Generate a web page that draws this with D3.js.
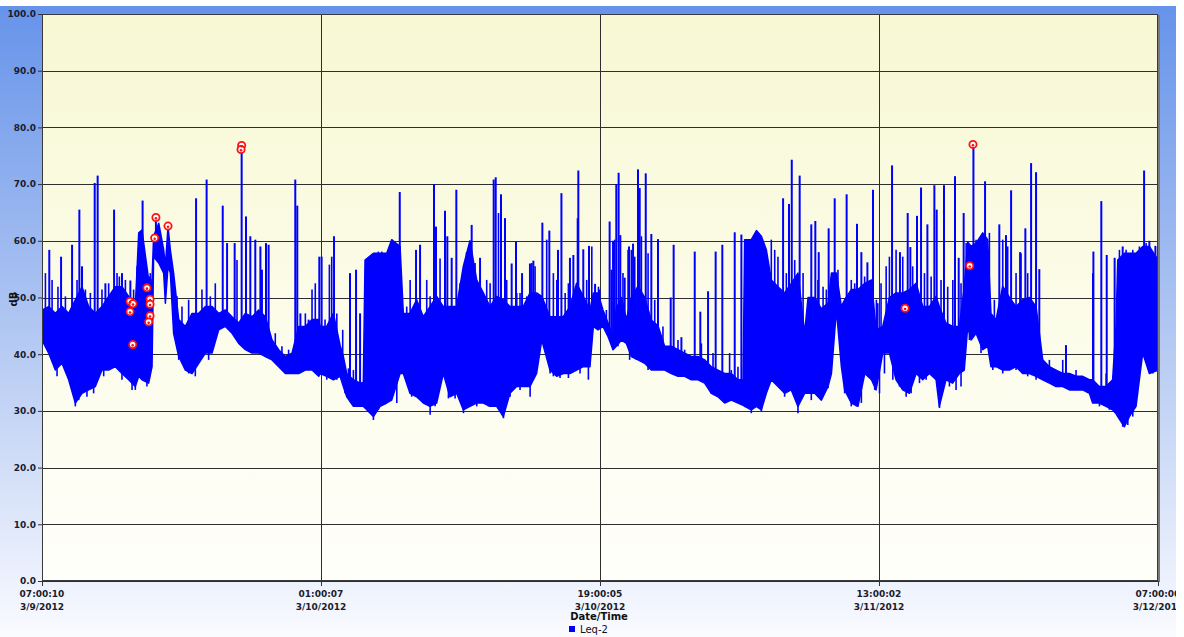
<!DOCTYPE html>
<html><head><meta charset="utf-8">
<script src="https://cdn.jsdelivr.net/npm/d3@7"></script>
<style>html,body{margin:0;padding:0;background:#fff;}svg{display:block;}</style>
</head><body>
<svg id="chart" width="1184" height="637"></svg>
<script>
// ---- data (hours after 07:00:10 3/9/2012, dB) ----
const bandHours = [0.00,0.43,0.86,1.29,1.72,2.15,2.58,3.01,3.44,3.87,4.30,4.73,5.16,5.59,6.02,6.24,6.45,6.88,7.10,7.20,7.53,7.85,7.96,8.13,8.28,8.49,8.82,9.25,9.68,10.11,10.54,10.97,11.40,11.83,12.26,12.69,13.12,13.55,13.98,14.41,14.84,15.27,15.70,16.13,16.56,16.99,17.42,17.85,
 17.94,18.37,18.80,19.23,19.44,19.66,20.09,20.52,20.73,20.84,21.38,21.81,22.24,22.56,23.10,23.31,23.74,24.17,24.60,25.03,25.46,25.89,26.32,26.75,27.18,27.61,28.04,28.47,28.90,29.33,29.76,30.19,30.62,31.05,31.48,31.91,32.24,32.77,33.20,33.63,34.06,34.49,34.92,35.35,35.57,
 35.87,36.19,36.52,36.84,37.05,37.38,37.70,38.02,38.45,38.88,39.31,39.74,40.17,40.60,41.03,41.46,41.89,42.32,42.75,43.18,43.61,44.04,44.47,44.90,45.23,45.33,45.76,46.09,46.41,46.73,47.05,47.48,47.91,48.34,48.77,49.20,49.42,49.85,50.28,50.71,50.93,51.25,51.57,51.78,52.21,52.64,53.08,53.51,
 53.81,54.24,54.67,55.10,55.53,55.96,56.39,56.82,57.25,57.68,57.89,58.32,58.75,59.18,59.50,59.72,59.94,60.26,60.69,61.01,61.22,61.55,61.98,62.41,62.84,63.27,63.70,64.13,64.56,64.99,65.42,65.85,66.28,66.71,67.14,67.57,67.78,68.21,68.64,69.07,69.29,69.40,69.83,70.15,70.58,71.01,71.44,72.00];
const bandLo = [42.5,40.2,37.2,38.4,35.5,31.4,33.1,33.7,34.3,37.2,37.2,37.8,36.6,35.5,34.3,36.1,35.5,34.9,37.8,57.2,56.1,54.3,49.0,55.5,54.3,43.7,39.6,37.2,36.6,38.4,40.2,40.2,44.3,44.9,43.7,41.9,40.8,40.2,40.2,39.6,39.0,37.8,36.6,36.6,36.6,37.2,37.2,36.1,
 36.6,36.1,35.5,36.1,34.3,32.5,30.8,30.8,30.8,30.5,29.0,30.8,31.4,31.9,36.6,36.6,33.1,32.5,31.4,30.8,31.4,36.6,32.5,33.1,30.2,30.8,31.4,31.4,30.8,30.8,29.0,33.1,34.3,34.3,34.3,36.6,42.5,37.2,36.1,36.6,36.6,37.2,37.8,37.8,44.9,
 44.3,44.9,43.1,40.8,41.4,42.5,41.9,39.6,39.0,38.4,37.2,37.2,37.2,36.6,36.1,36.1,35.5,35.5,34.9,33.1,32.5,31.4,31.9,31.4,31.0,30.8,30.2,30.8,30.2,33.1,35.5,34.3,33.1,33.7,30.8,33.1,33.1,33.1,31.9,34.3,36.6,47.8,37.8,33.7,31.4,30.8,36.6,35.5,
 33.7,40.2,40.2,35.5,33.7,33.1,36.6,35.5,36.6,35.5,30.8,35.5,34.9,36.6,37.2,44.9,42.5,43.7,40.8,41.4,37.8,37.8,37.2,37.2,37.8,36.6,36.6,36.1,35.5,34.9,34.3,34.3,33.7,33.7,33.7,33.1,31.4,31.4,30.8,30.2,29.5,29.0,27.2,29.0,30.8,40.2,36.6,37.2];
const bandHi = [47.8,48.4,47.2,48.4,47.2,49.6,51.9,48.4,47.2,48.4,50.2,51.9,51.9,50.2,48.4,61.4,61.9,53.1,53.1,60.8,63.1,58.4,55.5,62.5,58.4,54.3,46.1,44.9,47.2,47.2,48.4,48.4,47.2,47.8,46.6,45.5,47.2,46.6,47.8,46.6,42.5,40.8,39.6,40.2,44.9,44.9,46.1,46.1,
 44.9,44.9,47.2,41.6,39.6,36.6,35.5,34.9,35.0,56.6,57.8,57.8,57.8,60.2,59.0,47.2,47.2,49.6,46.6,48.4,50.2,48.4,48.4,48.4,55.5,60.0,53.1,50.8,48.4,50.2,49.6,48.4,48.4,48.4,50.8,50.8,50.2,46.6,46.6,46.6,48.4,52.5,50.2,47.8,50.8,
 50.8,47.8,45.5,43.1,48.0,50.0,46.1,50.0,52.0,50.0,46.0,45.0,41.4,41.4,40.8,40.2,39.6,39.6,39.0,37.8,37.2,36.6,36.6,35.5,35.5,60.2,60.2,61.8,60.8,58.4,53.1,51.9,50.8,52.5,54.3,43.7,50.0,50.0,48.0,49.0,54.3,54.3,48.4,49.6,51.4,51.4,52.5,53.1,
 44.3,44.9,50.0,50.8,50.8,51.4,52.5,48.4,48.4,50.2,48.4,45.5,44.9,44.9,51.9,59.8,59.0,59.6,61.4,60.2,47.2,46.1,52.0,50.0,48.4,49.6,50.0,48.4,39.0,37.8,37.2,36.6,36.6,36.1,36.1,35.5,35.5,34.3,34.3,35.5,45.0,56.6,57.8,57.8,57.8,59.0,59.0,56.6];

// tall isolated peaks
const spikeHours = [0.00,0.47,1.23,1.94,2.41,2.58,3.40,3.59,4.09,4.65,5.16,5.70,6.49,6.92,7.35,9.94,10.62,11.66,11.94,12.43,12.88,13.16,13.44,13.76,14.09,14.19,14.45,14.62,16.34,16.47,16.67,17.20,17.89,
 18.04,18.84,19.87,20.26,20.52,23.08,24.13,24.39,25.29,25.42,26.00,26.15,26.43,26.73,27.40,27.72,28.26,29.14,29.27,29.61,29.87,30.30,30.58,30.97,31.48,31.70,32.28,32.73,33.29,33.51,34.06,34.28,34.56,34.60,34.92,35.29,35.68,
 36.62,36.84,37.05,37.20,37.31,37.59,37.87,38.13,38.45,38.56,38.95,39.31,39.74,40.56,40.75,41.25,42.11,42.47,42.97,43.46,43.89,44.69,45.12,47.81,48.19,48.37,48.88,49.63,49.89,50.11,50.75,51.14,51.91,52.58,52.86,53.25,53.61,
 54.84,55.35,55.85,56.02,56.45,56.71,57.12,57.57,57.72,58.19,58.90,59.14,59.46,60.09,60.84,61.76,62.19,62.52,63.10,63.44,63.81,64.13,64.34,66.06,67.83,68.34,68.69,69.20,69.72,71.10,71.44,71.83];
const spikePeaks = [55.5,58.4,57.2,59.3,65.5,55.5,70.2,71.5,52.5,65.5,54.3,53.0,67.1,53.7,64.3,67.5,70.8,66.2,59.6,59.6,76.8,64.3,60.8,60.2,59.0,54.9,59.6,59.3,70.8,66.2,47.2,46.1,57.2,
 57.2,60.8,54.3,54.9,47.2,68.6,58.4,59.3,70.0,62.5,65.3,60.8,57.0,69.0,58.0,62.8,57.0,70.8,71.2,68.2,64.0,56.0,59.9,54.3,56.0,56.5,63.2,61.8,58.4,68.4,57.0,57.5,64.0,72.4,58.5,59.1,52.4,
 63.4,60.0,70.0,72.0,61.0,53.5,59.0,59.5,72.6,69.3,71.9,61.2,60.3,50.0,59.3,43.0,58.1,47.5,51.1,58.1,59.3,61.5,61.1,67.5,66.5,74.3,71.5,62.9,63.5,58.0,62.2,67.5,68.2,63.0,58.0,56.2,69.0,
 73.3,58.0,64.9,58.9,64.4,69.4,62.9,69.8,65.5,69.8,71.4,57.0,64.9,77.0,70.5,62.9,61.0,68.9,58.0,62.2,73.7,72.1,55.0,41.6,58.1,67.0,57.5,57.0,59.0,72.4,60.0,59.1];

// smaller peaks along the top edge of the band
const minorHours = [0.22,0.65,1.03,1.51,2.26,2.80,3.12,3.87,4.30,4.84,4.99,5.38,5.91,6.13,6.67,6.99,8.71,9.03,9.46,10.32,10.86,11.18,12.58,15.05,15.48,15.91,16.99,17.42,17.63,
 18.26,18.54,18.69,19.02,19.40,19.77,20.09,21.06,21.17,21.70,21.92,22.35,22.67,22.89,23.53,23.75,24.82,25.04,25.68,26.97,27.94,28.69,28.91,29.45,29.98,30.63,30.84,31.27,31.60,31.81,32.56,32.99,33.21,33.75,33.96,35.14,35.47,35.90,
 35.98,36.41,36.73,36.95,37.48,37.81,38.02,38.24,38.67,39.10,39.53,40.06,40.39,41.03,41.46,42.54,43.29,44.36,44.47,44.90,47.05,47.27,47.48,48.02,48.56,49.10,49.31,50.06,50.39,50.60,51.35,52.21,52.43,53.07,53.40,53.83,
 53.92,54.13,54.46,54.67,55.10,55.53,56.17,56.93,57.36,58.00,58.43,58.76,59.29,59.62,60.26,60.48,61.12,61.44,61.98,62.30,62.84,63.16,63.59,64.99,65.85,66.71,67.79,68.65,69.51,69.94,70.37,70.80,71.23,71.66];
const minorPeaks = [54.3,53.1,51.9,50.2,53.1,51.4,50.8,51.4,52.5,54.3,53.7,53.1,51.4,55.5,55.5,54.3,50.2,48.4,49.6,51.4,50.2,52.5,56.6,43.7,41.4,40.8,47.2,51.4,52.5,
 46.1,55.8,57.2,47.2,44.3,37.5,37.2,56.9,56.6,58.1,58.1,57.8,59.0,58.7,48.4,53.1,53.1,50.2,56.9,52.5,56.1,53.1,52.5,64.9,53.1,50.8,50.8,50.2,56.1,55.5,60.2,54.3,53.1,50.8,52.5,53.1,59.0,51.9,
 51.4,47.8,54.9,60.2,54.3,58.4,58.4,57.2,60.8,57.8,49.6,44.9,41.4,42.5,40.8,41.9,40.2,40.2,37.2,37.8,60.2,58.4,57.2,54.3,56.6,54.3,43.7,53.1,51.9,51.4,54.9,53.1,52.5,53.7,51.9,49.6,
 49.0,52.5,55.5,57.2,58.4,57.2,55.5,54.3,53.7,53.1,51.9,53.1,52.5,59.6,60.2,59.0,61.4,49.6,60.2,59.0,54.3,57.8,54.3,39.0,39.0,37.2,54.3,36.6,58.4,58.4,58.4,59.0,59.6,56.6];

// downward excursions along the bottom edge of the band
const dipHours = [0.97,1.61,2.15,2.37,2.90,3.33,3.98,5.16,5.81,6.02,6.77,8.82,9.46,9.89,10.75,
 18.37,19.02,19.55,19.98,21.38,21.70,22.89,23.85,24.39,25.04,25.36,26.22,26.65,27.19,28.05,28.80,29.12,29.77,30.20,30.84,31.49,32.78,32.99,33.42,33.96,34.71,35.25,
 36.84,37.16,37.91,38.34,39.10,39.74,41.03,41.89,43.18,44.04,44.90,45.76,46.41,47.27,47.59,47.91,48.34,48.77,49.63,50.06,50.71,51.78,52.21,52.54,52.86,53.72,
 54.03,54.35,54.89,55.32,55.75,56.07,56.61,57.04,57.90,58.54,58.97,59.29,59.83,60.58,61.34,61.98,62.84,63.59,64.13,68.22,68.86,69.72,70.05,70.37,71.66];
const dipLows = [36.1,37.2,30.8,31.9,32.5,33.1,36.1,35.5,33.7,33.7,34.3,39.0,36.6,36.1,39.0,
 35.5,35.5,33.1,31.4,28.4,30.2,31.4,32.5,32.5,29.3,30.8,32.2,32.2,29.6,30.8,30.8,31.4,28.7,32.5,33.7,32.5,36.6,36.1,35.8,35.8,36.6,35.5,
 40.8,41.4,39.0,39.0,37.2,37.2,36.1,35.5,33.1,31.4,31.4,29.6,29.9,34.9,34.0,32.5,33.7,29.6,31.9,32.5,34.0,33.1,30.8,30.8,31.4,33.7,
 33.1,36.6,35.5,34.3,32.5,33.1,34.9,35.5,30.5,34.3,33.7,34.3,42.5,40.2,37.2,36.6,37.2,36.1,35.5,30.8,30.2,27.2,27.5,29.0,36.6];

const markerHours = [12.88,12.84,7.35,8.13,7.27,6.77,5.68,5.87,6.97,6.97,5.68,6.97,6.88,5.85,60.06,59.85,55.68];
const markerDb    = [76.8,76.1,64.1,62.6,60.5,51.7,49.3,48.9,49.7,48.8,47.5,46.8,45.7,41.7,77.0,55.6,48.1];

const yTicks = [0,10,20,30,40,50,60,70,80,90,100];
const xTickTimes = ["2012-03-09 07:00:10","2012-03-10 01:00:07","2012-03-10 19:00:05","2012-03-11 13:00:02","2012-03-12 07:00:00"];
const seriesName = "Leq-2";
const xTitle = "Date/Time";
const yTitle = "dB";

// ---- drawing ----
const W = 1184, H = 637;
const plot = {l:42, r:1158, t:14, b:581};
const svg = d3.select("#chart");
const defs = svg.append("defs");
const bg = defs.append("linearGradient").attr("id","bg").attr("x1",0).attr("y1",0).attr("x2",0).attr("y2",1);
bg.append("stop").attr("offset","0%").attr("stop-color","#6693ea");
bg.append("stop").attr("offset","55%").attr("stop-color","#b7cbf3");
bg.append("stop").attr("offset","100%").attr("stop-color","#fafbff");
const pg = defs.append("linearGradient").attr("id","pg").attr("x1",0).attr("y1",0).attr("x2",0).attr("y2",1);
pg.append("stop").attr("offset","0%").attr("stop-color","#f8f8d4");
pg.append("stop").attr("offset","100%").attr("stop-color","#fffffb");
defs.append("clipPath").attr("id","outer").append("rect").attr("x",0).attr("y",0).attr("width",1176).attr("height",H);
defs.append("clipPath").attr("id","plotclip").append("rect").attr("x",plot.l).attr("y",plot.t).attr("width",plot.r-plot.l).attr("height",plot.b-plot.t);

const root = svg.append("g").attr("clip-path","url(#outer)");
root.append("rect").attr("x",0).attr("y",6).attr("width",1176).attr("height",H-6).attr("fill","url(#bg)");

const parse = d3.timeParse("%Y-%m-%d %H:%M:%S");
const tickDates = xTickTimes.map(parse);
const t0 = tickDates[0], t1 = tickDates[tickDates.length-1];
const toDate = h => new Date(t0.getTime() + h*3600000);

const x = d3.scaleTime().domain([t0,t1]).range([plot.l, plot.r]);
const y = d3.scaleLinear().domain([0,100]).range([plot.b, plot.t]);

// plot shadow + background
root.append("rect").attr("x",plot.l+2).attr("y",plot.t+1).attr("width",plot.r-plot.l).attr("height",plot.b-plot.t).attr("fill","#7a7a7a");
root.append("rect").attr("x",plot.l).attr("y",plot.t).attr("width",plot.r-plot.l).attr("height",plot.b-plot.t).attr("fill","url(#pg)");

// grid
const grid = root.append("g");
grid.selectAll("line.h").data(yTicks).join("line")
  .attr("x1",plot.l).attr("x2",plot.r)
  .attr("y1",d=>Math.round(y(d))+0.5).attr("y2",d=>Math.round(y(d))+0.5)
  .attr("stroke","#2e2e2e").attr("stroke-width",1);
grid.selectAll("line.v").data(tickDates.slice(1,-1)).join("line")
  .attr("y1",plot.t).attr("y2",plot.b)
  .attr("x1",d=>Math.round(x(d))+0.5).attr("x2",d=>Math.round(x(d))+0.5)
  .attr("stroke","#2e2e2e").attr("stroke-width",1);

// data
const blue = "#0000ff";
const band = bandHours.map((h,i)=>({t:toDate(h), lo:bandLo[i], hi:bandHi[i]}));
const dataG = root.append("g").attr("clip-path","url(#plotclip)");
const area = d3.area().x(d=>x(d.t)).y0(d=>y(d.lo)).y1(d=>y(d.hi));
dataG.append("path").datum(band).attr("d",area).attr("fill",blue).attr("stroke",blue).attr("stroke-width",1.5).attr("stroke-linejoin","round");
const hiAt = d3.scaleLinear().domain(bandHours).range(bandHi);
const loAt = d3.scaleLinear().domain(bandHours).range(bandLo);
const midAt = h => (hiAt(h)+loAt(h))/2;
function strokes(hours, vals, cls, w){
  const pts = hours.map((h,i)=>({t:toDate(h), h, v:vals[i]}));
  dataG.selectAll("line."+cls).data(pts).join("line").attr("class",cls)
    .attr("x1",d=>x(d.t)).attr("x2",d=>x(d.t))
    .attr("y1",d=>y(midAt(d.h))).attr("y2",d=>y(d.v))
    .attr("stroke",blue).attr("stroke-width",w);
}
strokes(minorHours, minorPeaks, "mn", 1.6);
strokes(dipHours, dipLows, "dp", 1.6);
strokes(spikeHours, spikePeaks, "sp", 2);

// markers
const mk = markerHours.map((h,i)=>({t:toDate(h), v:markerDb[i]}));
const mg = root.append("g");
mg.selectAll("circle.o").data(mk).join("circle").attr("class","o")
  .attr("cx",d=>x(d.t)).attr("cy",d=>y(d.v)).attr("r",3.6)
  .attr("fill","#ffffff").attr("stroke","#ff1010").attr("stroke-width",1.8);
mg.selectAll("circle.i").data(mk).join("circle").attr("class","i")
  .attr("cx",d=>x(d.t)).attr("cy",d=>y(d.v)+0.8).attr("r",1.3)
  .attr("fill","#ff1010");

// plot border
root.append("rect").attr("x",plot.l+0.5).attr("y",plot.t+0.5).attr("width",plot.r-plot.l-1).attr("height",plot.b-plot.t-1)
  .attr("fill","none").attr("stroke","#3a3a3a").attr("stroke-width",1);

// y axis
const fontF = "'DejaVu Sans', Verdana, sans-serif";
const yAxis = root.append("g").attr("transform",`translate(${plot.l},0)`)
  .call(d3.axisLeft(y).tickValues(yTicks).tickFormat(d3.format(".1f")).tickSize(4).tickPadding(2));
yAxis.select(".domain").remove();
yAxis.selectAll("line").attr("stroke","#333");
yAxis.selectAll("text").attr("font-family",fontF).attr("font-size","9px").attr("fill","#1c1c2c").attr("font-weight","bold");

// x axis
const xAxis = root.append("g").attr("transform",`translate(0,${plot.b})`)
  .call(d3.axisBottom(x).tickValues(tickDates).tickFormat("").tickSize(5));
xAxis.select(".domain").remove();
xAxis.selectAll("line").attr("stroke","#333");
const fT = d3.timeFormat("%H:%M:%S"), fD = d3.timeFormat("%-m/%-d/%Y");
const xl = root.append("g");
xl.selectAll("text.t").data(tickDates).join("text").attr("class","t")
  .attr("x",d=>x(d)).attr("y",597).attr("text-anchor","middle")
  .attr("font-family",fontF).attr("font-size","9px").attr("font-weight","bold").attr("fill","#1c1c2c").text(d=>fT(d));
xl.selectAll("text.d").data(tickDates).join("text").attr("class","d")
  .attr("x",d=>x(d)).attr("y",610).attr("text-anchor","middle")
  .attr("font-family",fontF).attr("font-size","9px").attr("font-weight","bold").attr("fill","#1c1c2c").text(d=>fD(d));

// titles
root.append("text").attr("x",599).attr("y",620).attr("text-anchor","middle")
  .attr("font-family",fontF).attr("font-size","10px").attr("font-weight","bold").attr("fill","#111").text(xTitle);
root.append("text").attr("transform","translate(17,299) rotate(-90)").attr("text-anchor","middle")
  .attr("font-family",fontF).attr("font-size","10px").attr("font-weight","bold").attr("fill","#111").text(yTitle);

// legend
root.append("rect").attr("x",569).attr("y",626).attr("width",6).attr("height",6).attr("fill",blue);
root.append("text").attr("x",580).attr("y",633).attr("font-family",fontF).attr("font-size","10px").attr("fill","#111").text(seriesName);
</script>
</body></html>
